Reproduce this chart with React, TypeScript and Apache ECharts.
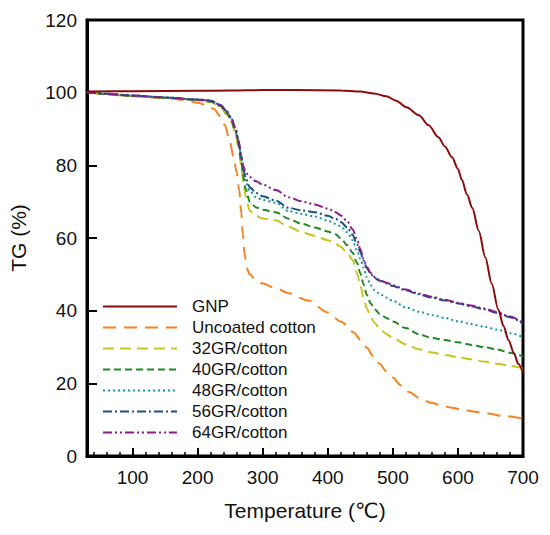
import React, { useEffect, useRef } from "react";
import * as echarts from "echarts";

// Temperature grid shared by the coated samples (°C)
const COATED_T = [30, 60, 100, 150, 200, 220, 235, 245, 252, 258, 263, 267, 270, 274, 280, 290, 300, 320, 340, 360, 380, 400, 412, 420, 430, 438, 445, 450, 455, 460, 466, 472, 480, 490, 500, 520, 540, 560, 580, 600, 620, 640, 660, 680, 700];

const GR32 = [100.2, 99.6, 99.1, 98.5, 97.9, 97.4, 96.1, 94, 91.8, 88.8, 85, 80, 75.5, 71.5, 67.5, 66, 65.4, 64.9, 63.1, 61.6, 60.6, 59.4, 58.4, 57.6, 55.8, 54, 50.4, 47, 43.6, 40.6, 38.2, 36.6, 35, 33.6, 32.5, 30.7, 29.4, 28.5, 27.8, 27.2, 26.6, 26, 25.4, 24.8, 24.1];
const GR40 = [100.2, 99.6, 99.1, 98.6, 98, 97.6, 96.3, 94.3, 92.2, 89.4, 85.6, 81, 77, 73.5, 70, 68.4, 67.8, 67.1, 65.3, 63.9, 62.9, 61.8, 61, 59.9, 58, 56, 53.2, 50.3, 47.3, 44.3, 42, 40.4, 39.1, 38, 37, 35.2, 33.5, 32.5, 31.9, 31.3, 30.6, 30, 29.3, 28.4, 27.4];
const GR48 = [100.2, 99.7, 99.2, 98.7, 98.1, 97.8, 96.6, 94.8, 92.8, 90.2, 86.6, 82, 78.5, 75.5, 73, 71.2, 70.5, 69.7, 67.4, 66.6, 65.9, 64.8, 63.9, 63.2, 61.6, 59.4, 56.5, 54.3, 51.8, 49.2, 47, 45.6, 44.6, 43.6, 42.7, 40.9, 39.7, 38.8, 38, 37.1, 36.3, 35.6, 34.8, 33.8, 32.7];
const GR56 = [100.2, 99.7, 99.2, 98.7, 98.1, 97.8, 96.6, 94.8, 92.8, 90.2, 86.6, 82.5, 79, 76.5, 74, 72.4, 71.5, 70.3, 68.3, 67.6, 67.1, 66.1, 65.3, 64.4, 62.9, 60.9, 58.3, 56.2, 53.8, 51.7, 50.1, 49, 48.2, 47.5, 46.8, 45.6, 44.5, 43.6, 42.8, 42, 41.2, 40.4, 39.4, 38.2, 36.3];
const GR64 = [100.2, 99.7, 99.2, 98.7, 98.1, 97.8, 96.6, 94.8, 92.8, 90.2, 86.6, 82.5, 79.8, 78, 76.8, 75.6, 74.7, 73.2, 71.2, 70.1, 69.2, 68.1, 67.1, 66.2, 64.6, 62.4, 59.6, 56.9, 54.2, 52, 50.4, 49.3, 48.4, 47.7, 47, 45.8, 44.7, 43.8, 43, 42.2, 41.4, 40.6, 39.6, 38.4, 36.6];

// Uncoated cotton
const COTTON_T = [30, 60, 100, 150, 180, 200, 215, 225, 235, 242, 249, 255, 260, 264, 267, 269.5, 272, 276, 280, 290, 300, 320, 340, 370, 400, 420, 440, 450, 460, 470, 480, 490, 500, 512, 525, 542, 560, 575, 590, 605, 625, 645, 670, 700];
const COTTON_V = [100.2, 99.6, 99, 98.5, 98, 97.2, 96.5, 95.5, 93.5, 91, 87, 82.5, 78, 73, 67, 61, 55.7, 51.5, 50, 48.3, 47.5, 46.2, 44.8, 42.8, 39.5, 37, 34, 32, 29.8, 27.5, 25.3, 23.3, 21.6, 19.5, 17.6, 15.8, 14.6, 13.9, 13.3, 12.8, 12.2, 11.7, 11, 10.3];

// GNP
const GNP_T = [30, 100, 200, 250, 300, 350, 420, 450, 471, 490, 505, 521, 540, 555, 570, 580, 591, 600, 606, 614, 622, 632, 642, 652, 662, 670, 678, 686, 693, 700];
const GNP_V = [100.3, 100.4, 100.5, 100.6, 100.7, 100.7, 100.6, 100.3, 99.8, 99, 97.8, 96, 93.8, 91, 87.7, 85.2, 82.2, 79, 76, 72, 68.3, 62, 54.7, 47.4, 40.3, 35.8, 31.8, 28.3, 25.3, 23];

const X_MAJOR = [100, 200, 300, 400, 500, 600, 700];
const X_MINOR = [40, 60, 80, 120, 140, 160, 180, 220, 240, 260, 280, 320, 340, 360, 380, 420, 440, 460, 480, 520, 540, 560, 580, 620, 640, 660, 680];

const FONT = "'Liberation Sans', Arial, 'DejaVu Sans', sans-serif";

const zip = (t: number[], v: number[]) => t.map((x, i) => [x, v[i]]);

export default function App() {
  const ref = useRef<HTMLDivElement>(null);
  useEffect(() => {
    document.body.style.margin = "0";
    const chart = echarts.init(ref.current!, null, { renderer: "svg" });
    const mk = (name: string, data: number[][], color: string, type: any, width = 2, z = 2) => ({
      name,
      type: "line",
      data,
      symbol: "none",
      showSymbol: false,
      smooth: 0.3,
      smoothMonotone: "x",
      z,
      lineStyle: { color, width, type },
      itemStyle: { color },
    });
    chart.setOption({
      animation: false,
      backgroundColor: "#fff",
      grid: {
        left: 86,
        right: 27,
        top: 20,
        bottom: 79,
        show: true,
        borderColor: "#000",
        borderWidth: 3,
      },
      legend: {
        orient: "vertical",
        left: 102,
        top: 298,
        padding: 0,
        itemWidth: 74,
        itemHeight: 12,
        itemGap: 4,
        selectedMode: false,
        itemStyle: { opacity: 0 },
        textStyle: { fontFamily: FONT, fontSize: 17, color: "#111", padding: [0, 0, 0, 10], lineHeight: 16 },
        data: ["GNP", "Uncoated cotton", "32GR/cotton", "40GR/cotton", "48GR/cotton", "56GR/cotton", "64GR/cotton"],
      },
      xAxis: [
        {
          type: "value",
          min: 30,
          max: 700,
          name: "Temperature (℃)",
          nameLocation: "middle",
          nameGap: 44,
          nameTextStyle: { fontFamily: FONT, fontSize: 21, color: "#111" },
          axisLine: { lineStyle: { color: "#000", width: 3 } },
          axisTick: { inside: true, length: 8, customValues: X_MAJOR, lineStyle: { color: "#000", width: 2 } },
          axisLabel: { customValues: X_MAJOR, fontFamily: FONT, fontSize: 19, color: "#111", margin: 12 },
          splitLine: { show: false },
        },
        {
          type: "value",
          min: 30,
          max: 700,
          position: "bottom",
          axisLine: { show: false },
          axisTick: { inside: true, length: 4, customValues: X_MINOR, lineStyle: { color: "#000", width: 1.5 } },
          axisLabel: { show: false },
          splitLine: { show: false },
        },
      ],
      yAxis: {
        type: "value",
        min: 0,
        max: 120,
        interval: 20,
        name: "TG (%)",
        nameLocation: "middle",
        nameGap: 58,
        nameTextStyle: { fontFamily: FONT, fontSize: 21, color: "#111" },
        axisLine: { lineStyle: { color: "#000", width: 3 } },
        axisTick: { inside: true, length: 10, lineStyle: { color: "#000", width: 2 } },
        axisLabel: { fontFamily: FONT, fontSize: 19, color: "#111", margin: 10 },
        splitLine: { show: false },
      },
      series: [
        mk("GNP", zip(GNP_T, GNP_V), "#8c0a0a", "solid", 2, 3),
        mk("Uncoated cotton", zip(COTTON_T, COTTON_V), "#f7821e", [13, 8], 2),
        mk("32GR/cotton", zip(COATED_T, GR32), "#c5c522", [11, 6], 2),
        mk("40GR/cotton", zip(COATED_T, GR40), "#1f8a1f", [7, 4], 2),
        mk("48GR/cotton", zip(COATED_T, GR48), "#13999a", [2, 3], 2),
        mk("56GR/cotton", zip(COATED_T, GR56), "#1c4f86", [9, 3, 2, 3], 2),
        mk("64GR/cotton", zip(COATED_T, GR64), "#8d1a8d", [9, 3, 2, 3, 2, 3], 2),
      ],
    });
    return () => chart.dispose();
  }, []);
  return <div ref={ref} style={{ width: 550, height: 535 }} />;
}
